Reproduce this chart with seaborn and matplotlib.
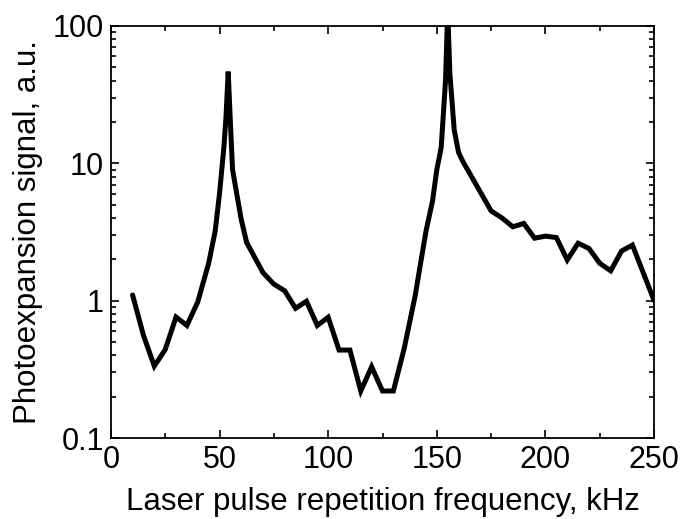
import matplotlib
matplotlib.use("Agg")
import matplotlib.pyplot as plt
import matplotlib.ticker as mticker
import seaborn as sns
import pandas as pd

freq_khz = [10, 15, 20, 25, 30, 35, 40, 45, 48, 50, 52, 53, 54, 55, 56, 60, 62.5,
            70, 75, 80, 85, 90, 95, 100, 105, 110, 115, 120, 125, 130, 135, 140,
            145, 148, 150, 152, 154, 155, 156, 158, 160, 162, 175, 180, 185, 190,
            195, 200, 205, 210, 215, 220, 225, 230, 235, 240, 250]
signal = [1.1, 0.56, 0.334, 0.44, 0.76, 0.66, 0.98, 1.87, 3.2, 6.0, 13, 22, 46.5,
          20, 9, 3.9, 2.65, 1.6, 1.32, 1.18, 0.88, 0.99, 0.66, 0.757, 0.437,
          0.437, 0.22, 0.33, 0.22, 0.22, 0.45, 1.08, 3.2, 5.3, 9, 13, 40, 130,
          45, 17.5, 12, 10.3, 4.5, 4.0, 3.45, 3.65, 2.85, 2.95, 2.88, 1.98, 2.62,
          2.4, 1.87, 1.65, 2.3, 2.54, 1.0]

x_major = [0, 50, 100, 150, 200, 250]
x_minor = [25, 75, 125, 175, 225]
y_major = [0.1, 1, 10, 100]
y_labels = ["0.1", "1", "10", "100"]

df = pd.DataFrame({"freq": freq_khz, "signal": signal})

sns.set_theme(style="ticks")
plt.rcParams["font.family"] = ["Liberation Sans", "DejaVu Sans"]
plt.rcParams["text.color"] = "black"
plt.rcParams["axes.labelcolor"] = "black"
plt.rcParams["xtick.color"] = "black"
plt.rcParams["ytick.color"] = "black"

fig = plt.figure(figsize=(6.8, 5.19), dpi=100)
ax = fig.add_axes([0.163, 0.156, 0.799, 0.794])

sns.lineplot(data=df, x="freq", y="signal", ax=ax, color="black",
             linewidth=3.6, solid_joinstyle="miter", sort=False)

ax.set_yscale("log")
ax.set_xlim(0, 250)
ax.set_ylim(0.1, 100)
ax.set_xticks(x_major)
ax.set_xticks(x_minor, minor=True)
ax.set_yticks(y_major)
ax.set_yticklabels(y_labels)
ax.yaxis.set_minor_locator(mticker.LogLocator(base=10, subs=range(2, 10)))
ax.yaxis.set_minor_formatter(mticker.NullFormatter())

for s in ax.spines.values():
    s.set_linewidth(1.3)
    s.set_color("black")

ax.tick_params(which="both", direction="in", top=True, right=True,
               color="black", labelcolor="black", width=1.2)
ax.tick_params(which="major", length=6, labelsize=22, pad=5)
ax.tick_params(which="minor", length=3.5)

ax.set_xlabel("Laser pulse repetition frequency, kHz", fontsize=22.5, labelpad=9)
ax.set_ylabel("Photoexpansion signal, a.u.", fontsize=22.5, labelpad=7)

fig.savefig("out.png", dpi=100)
